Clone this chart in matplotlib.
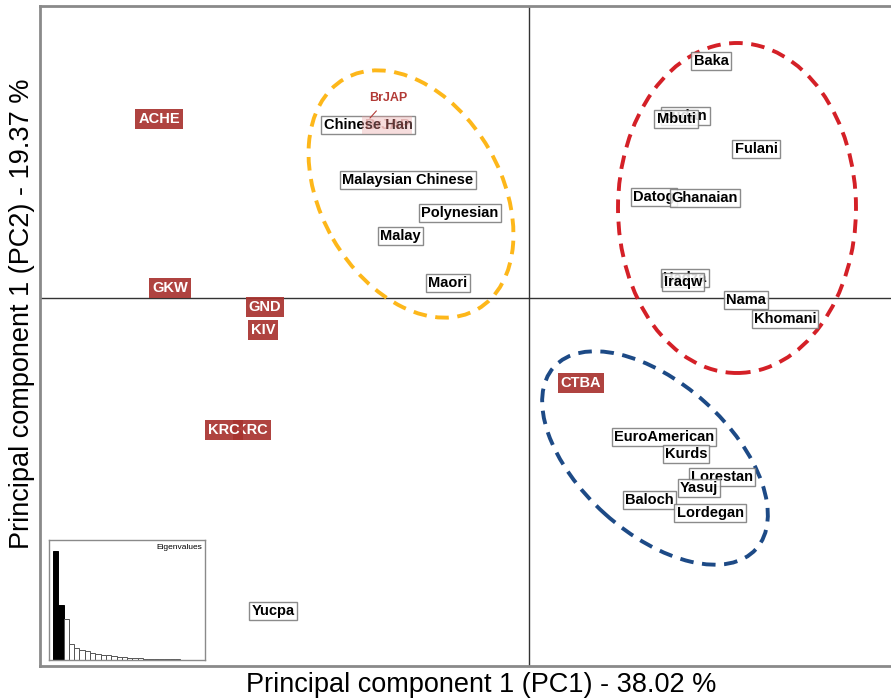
import matplotlib.pyplot as plt
from matplotlib.patches import Ellipse

plt.rcParams['font.family'] = ['Liberation Sans', 'DejaVu Sans']

# 群体在 PC1 / PC2 上的得分
white_names = ["Chinese Han", "Malaysian Chinese", "Polynesian", "Malay", "Maori",
               "Baka", "Sudan", "Mbuti", "Fulani", "Datog", "Ghanaian", "Hadza", "Iraqw",
               "Nama", "Khomani", "EuroAmerican", "Kurds", "Lorestan", "Yasuj",
               "Baloch", "Lordegan", "Yucpa"]
white_pc1 = [-0.161, -0.121, -0.069, -0.129, -0.081,
             0.182, 0.156, 0.147, 0.227, 0.125, 0.176, 0.156, 0.154,
             0.217, 0.256, 0.135, 0.157, 0.193, 0.170,
             0.120, 0.181, -0.256]
white_pc2 = [0.173, 0.118, 0.085, 0.062, 0.015,
             0.237, 0.182, 0.179, 0.149, 0.101, 0.100, 0.020, 0.016,
             -0.002, -0.021, -0.139, -0.156, -0.179, -0.190,
             -0.202, -0.215, -0.313]

red_names = ["ACHE", "GKW", "GND", "KIV", "KRC", "KRC", "CTBA"]
red_pc1 = [-0.370, -0.359, -0.264, -0.266, -0.277, -0.305, 0.052]
red_pc2 = [0.179, 0.010, -0.009, -0.032, -0.132, -0.132, -0.085]

brjap_pc = (-0.142, 0.173)
brjap_label = (-0.141, 0.200)

# 特征值（%）
eigenvalues = [38.02, 19.37, 14.5, 5.7, 4.3, 3.6, 3.0, 2.5, 2.1, 1.8, 1.6, 1.3, 1.1,
               0.9, 0.8, 0.7, 0.6, 0.5, 0.45, 0.4, 0.35, 0.3, 0.25, 0.2, 0.15, 0.1]

# 聚类椭圆: 中心, 宽, 高, 角度, 颜色
clusters = [((-0.118, 0.104), 0.266, 0.180, -60, '#FDB71A'),
            ((0.208, 0.090), 0.238, 0.330, 0, '#D42027'),
            ((0.126, -0.160), 0.272, 0.150, -42, '#1D4A86')]

fig = plt.figure(figsize=(8.91, 6.98), dpi=100)
ax = fig.add_axes([40/891, 32/698, 860/891, 660/698])
ax.set_xlim(-0.489, 0.371)
ax.set_ylim(-0.368, 0.292)
ax.set_xticks([])
ax.set_yticks([])
for s in ax.spines.values():
    s.set_color('#8a8a8a')
    s.set_linewidth(2)

ax.axhline(0, color='#333333', lw=1, zorder=1)
ax.axvline(0, color='#333333', lw=1, zorder=1)

for (c, w, h, ang, col) in clusters:
    ax.add_patch(Ellipse(c, w, h, angle=ang, fill=False, edgecolor=col,
                         lw=2.8, linestyle=(0, (3.5, 2.2)), zorder=2))

for name, x, y in zip(white_names, white_pc1, white_pc2):
    ax.text(x, y, name, ha='center', va='center', fontsize=10.5, fontweight='bold',
            color='black', zorder=3,
            bbox=dict(boxstyle='square,pad=0.15', facecolor='white', alpha=0.85,
                      edgecolor='#777777', lw=1))

for name, x, y in zip(red_names, red_pc1, red_pc2):
    ax.text(x, y, name, ha='center', va='center', fontsize=10.5, fontweight='bold',
            color='white', zorder=3,
            bbox=dict(boxstyle='square,pad=0.2', facecolor='#A8332F', alpha=0.92,
                      edgecolor='none'))

# BrJAP 与 Chinese Han 重叠，标签移出并用线连接
ax.text(brjap_pc[0], brjap_pc[1], "BrJAP", ha='center', va='center', fontsize=10.5,
        fontweight='bold', color='#A8332F', alpha=0.25, zorder=4,
        bbox=dict(boxstyle='square,pad=0.15', facecolor='#E8A0A0', alpha=0.35,
                  edgecolor='none'))
ax.annotate("BrJAP", xy=(brjap_pc[0] - 0.017, brjap_pc[1] + 0.007), xytext=brjap_label,
            ha='center', va='center', fontsize=9, fontweight='bold', color='#B23A36',
            arrowprops=dict(arrowstyle='-', color='#B23A36', lw=0.8,
                            shrinkA=4, shrinkB=0), zorder=4)

fig.text(481/891, 1 - 685/698, "Principal component 1 (PC1) - 38.02 %",
         ha='center', va='center', fontsize=19.5)
fig.text(22/891, 1 - 314/698, "Principal component 1 (PC2) - 19.37 %",
         ha='center', va='center', fontsize=19.5, rotation=90)

# 特征值小图
ins = fig.add_axes([49/891, 38/698, 156/891, 120/698])
colors = ['black', 'black'] + ['white'] * (len(eigenvalues) - 2)
edges = ['black', 'black'] + ['#555555'] * (len(eigenvalues) - 2)
ins.bar(range(len(eigenvalues)), eigenvalues, width=1, color=colors,
        edgecolor=edges, lw=0.7)
ins.set_xlim(-1.25, 28.2)
ins.set_ylim(0, 42)
ins.set_xticks([])
ins.set_yticks([])
for s in ins.spines.values():
    s.set_color('#8a8a8a')
    s.set_linewidth(1)
ins.text(0.98, 0.97, "Eigenvalues", transform=ins.transAxes, ha='right', va='top',
         fontsize=6)

fig.savefig("out.png", dpi=100)
